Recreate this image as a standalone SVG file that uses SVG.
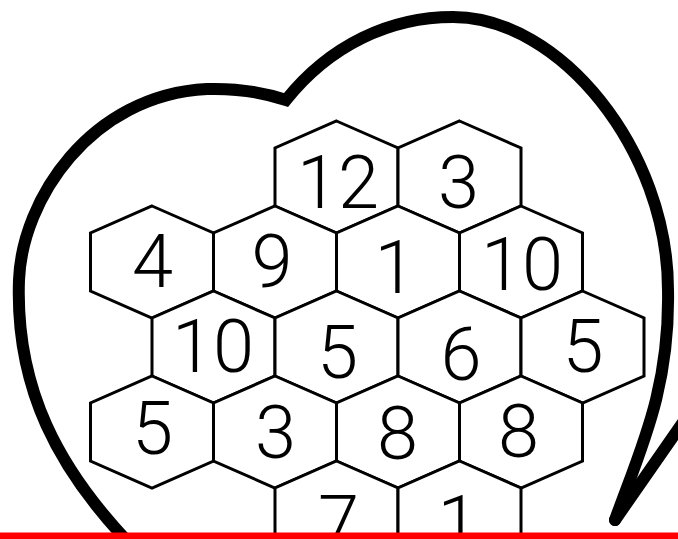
<svg xmlns="http://www.w3.org/2000/svg" xmlns:xlink="http://www.w3.org/1999/xlink" width="678" height="539" viewBox="0 0 678 539">
  <defs>
    <style>
      .hex { fill: #ffffff; stroke: #000000; stroke-width: 3; stroke-linejoin: miter; }
      .num { font-family: Roboto, "Liberation Sans", sans-serif; font-weight: 300; font-size: 74px; fill: #000000; text-anchor: middle; }
      .bubble { fill: none; stroke: #000000; stroke-width: 12; stroke-linecap: round; stroke-linejoin: miter; }
    </style>
    <polygon id="hex" class="hex" points="0,-56 61.5,-29 61.5,29 0,56 -61.5,29 -61.5,-29"/>
  </defs>
  <rect x="0" y="0" width="678" height="539" fill="#ffffff"/>

  <g id="bubble">
    <path class="bubble" d="M 128,542 C 60,470 15,390 19,280 C 22,200 90,95 207,89 C 240,88 265,93 286,100 C 330,45 390,17 453,17 C 560,17 668,150 668,290 C 670,390 640,450 615,520"/>
    <path class="bubble" d="M 615,520 L 700,398"/>
  </g>

  <g id="hexes">
    <g id="n-r0-12"><use href="#hex" x="336.5" y="177"/><text class="num" x="338" y="208">12</text></g>
    <g id="n-r0-3"><use href="#hex" x="459.5" y="177"/><text class="num" x="458.5" y="208">3</text></g>

    <g id="n-r1-4"><use href="#hex" x="152" y="262"/><text class="num" x="152.5" y="287">4</text></g>
    <g id="n-r1-9"><use href="#hex" x="275" y="262"/><text class="num" x="272" y="287">9</text></g>
    <g id="n-r1-1"><use href="#hex" x="398" y="262"/><text class="num" x="395" y="293">1</text></g>
    <g id="n-r1-10"><use href="#hex" x="521" y="262"/><text class="num" x="522" y="290">10</text></g>

    <g id="n-r2-10"><use href="#hex" x="213.5" y="347"/><text class="num" x="213" y="372">10</text></g>
    <g id="n-r2-5a"><use href="#hex" x="336.5" y="347"/><text class="num" x="337.5" y="378">5</text></g>
    <g id="n-r2-6"><use href="#hex" x="459.5" y="347"/><text class="num" x="461" y="380">6</text></g>
    <g id="n-r2-5b"><use href="#hex" x="582.5" y="347"/><text class="num" x="583" y="372">5</text></g>

    <g id="n-r3-5"><use href="#hex" x="152" y="432"/><text class="num" x="152.5" y="454">5</text></g>
    <g id="n-r3-3"><use href="#hex" x="275" y="432"/><text class="num" x="275.5" y="458">3</text></g>
    <g id="n-r3-8a"><use href="#hex" x="398" y="432"/><text class="num" x="397.5" y="459">8</text></g>
    <g id="n-r3-8b"><use href="#hex" x="521" y="432"/><text class="num" x="518.5" y="457">8</text></g>

    <g id="n-r4-7"><use href="#hex" x="336.5" y="517"/><text class="num" x="338.5" y="548">7</text></g>
    <g id="n-r4-1"><use href="#hex" x="459.5" y="517"/><text class="num" x="458" y="548">1</text></g>
  </g>

  <rect id="baseline" x="0" y="532.5" width="678" height="7" fill="#ff0000"/>
</svg>
